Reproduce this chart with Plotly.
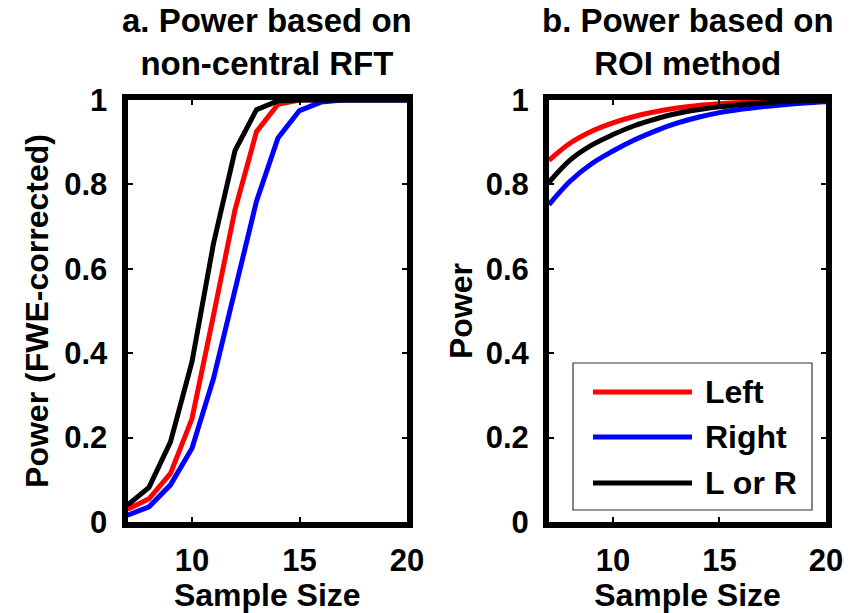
import plotly.graph_objects as go

# ---- data ----
sample_size = [7, 8, 9, 10, 11, 12, 13, 14, 15, 16, 17, 18, 19, 20]
series_names = ["Left", "Right", "L or R"]
series_colors = ["#ff0000", "#0000ff", "#000000"]

# panel a: power based on non-central RFT
rft_left = [0.03, 0.055, 0.115, 0.245, 0.49, 0.74, 0.925, 0.99, 1.0, 1.0, 1.0, 1.0, 1.0, 1.0]
rft_right = [0.016, 0.036, 0.088, 0.175, 0.34, 0.55, 0.76, 0.91, 0.975, 0.995, 1.0, 1.0, 1.0, 1.0]
rft_lorr = [0.04, 0.082, 0.19, 0.38, 0.66, 0.88, 0.977, 0.998, 1.0, 1.0, 1.0, 1.0, 1.0, 1.0]

# panel b: power based on ROI method
roi_left = [0.857, 0.898, 0.926, 0.946, 0.961, 0.972, 0.981, 0.987, 0.991, 0.994, 0.996, 0.998, 0.999, 1.0]
roi_right = [0.752, 0.808, 0.849, 0.879, 0.905, 0.927, 0.945, 0.959, 0.970, 0.978, 0.984, 0.989, 0.993, 0.996]
roi_lorr = [0.805, 0.858, 0.893, 0.918, 0.939, 0.955, 0.968, 0.977, 0.984, 0.989, 0.993, 0.996, 0.998, 0.999]

x_ticks = [10, 15, 20]
y_ticks = [0, 0.2, 0.4, 0.6, 0.8, 1]
y_ticklabels = ["0", "0.2", "0.4", "0.6", "0.8", "1"]

titles = ["a. Power based on<br>non-central RFT", "b. Power based on<br>ROI method"]
y_titles = ["Power (FWE-corrected)", "Power"]
x_title = "Sample Size"

W, H = 863, 613
FONT = "Liberation Sans, Arial, sans-serif"

fig = go.Figure()

panel_a = [rft_left, rft_right, rft_lorr]
panel_b = [roi_left, roi_right, roi_lorr]
for name, color, ya in zip(series_names, series_colors, panel_a):
    fig.add_trace(go.Scatter(x=sample_size, y=ya, mode="lines", name=name,
                             line=dict(color=color, width=5), xaxis="x", yaxis="y",
                             showlegend=False))
for name, color, yb in zip(series_names, series_colors, panel_b):
    fig.add_trace(go.Scatter(x=sample_size, y=yb, mode="lines", name=name,
                             line=dict(color=color, width=5, shape="spline", smoothing=1.0),
                             xaxis="x2", yaxis="y2", showlegend=False))

PY0, PY1 = 100, 522          # plot area top / bottom in px
AX0, AX1 = 127.5, 407        # panel a left / right
BX0, BX1 = 549, 826          # panel b left / right
ydom = [(H - PY1) / H, (H - PY0) / H]
xdom_a = [AX0 / W, AX1 / W]
xdom_b = [BX0 / W, BX1 / W]

axis_common = dict(showline=True, linewidth=6, linecolor="black", mirror="allticks",
                   ticks="inside", ticklen=5, tickwidth=2, tickcolor="black",
                   showgrid=False, zeroline=False, automargin=False,
                   tickfont=dict(family=FONT, size=31, color="black", weight="bold"))

xa = dict(axis_common, range=[7, 20], tickvals=x_ticks, ticklabelstandoff=6,
          title=dict(text=x_title, font=dict(family=FONT, size=32, color="black", weight="bold"),
                     standoff=8))
ya = dict(axis_common, range=[0, 1], tickvals=y_ticks, ticktext=y_ticklabels,
          ticklabelstandoff=8)

fig.update_layout(
    width=W, height=H,
    margin=dict(l=0, r=0, t=0, b=0, autoexpand=False),
    paper_bgcolor="white", plot_bgcolor="white",
    showlegend=False,
    xaxis=dict(xa, domain=xdom_a, anchor="y"),
    yaxis=dict(ya, domain=ydom, anchor="x",
               title=dict(text=y_titles[0], standoff=8,
                          font=dict(family=FONT, size=32, color="black", weight="bold"))),
    xaxis2=dict(xa, domain=xdom_b, anchor="y2"),
    yaxis2=dict(ya, domain=ydom, anchor="x2",
                title=dict(text=y_titles[1], standoff=5,
                           font=dict(family=FONT, size=32, color="black", weight="bold"))),
)

# panel titles
for i, t in enumerate(titles):
    xref = "x domain" if i == 0 else "x2 domain"
    fig.add_annotation(text=t, xref=xref, yref="paper", x=0.5, y=(H - 42) / H,
                       xanchor="center", yanchor="middle", showarrow=False,
                       font=dict(family=FONT, size=33, color="black", weight="bold"))

# legend box in panel b (drawn manually to match long line samples)
bx0, bx1 = 573, 812
by0, by1 = 363, 510


def px_to_dom(px, py):
    return (px - BX0) / (BX1 - BX0), (PY1 - py) / (PY1 - PY0)


x0d, y0d = px_to_dom(bx0, by1)
x1d, y1d = px_to_dom(bx1, by0)
fig.add_shape(type="rect", xref="x2 domain", yref="y2 domain", x0=x0d, y0=y0d, x1=x1d, y1=y1d,
              line=dict(color="#333333", width=1.2), fillcolor="white", layer="above")
rows_y = [392, 437, 483]
for name, color, ry in zip(series_names, series_colors, rows_y):
    lx0, ly = px_to_dom(593, ry)
    lx1, _ = px_to_dom(692, ry)
    fig.add_shape(type="line", xref="x2 domain", yref="y2 domain", x0=lx0, x1=lx1, y0=ly, y1=ly,
                  line=dict(color=color, width=5), layer="above")
    tx, _ = px_to_dom(703, ry)
    fig.add_annotation(text=name, xref="x2 domain", yref="y2 domain", x=tx, y=ly,
                       xanchor="left", yanchor="middle", showarrow=False,
                       font=dict(family=FONT, size=32, color="black", weight="bold"))

fig.write_html("out.html", config={"displayModeBar": False},
               post_script="document.body.style.margin='0';document.body.style.overflow='hidden';")
